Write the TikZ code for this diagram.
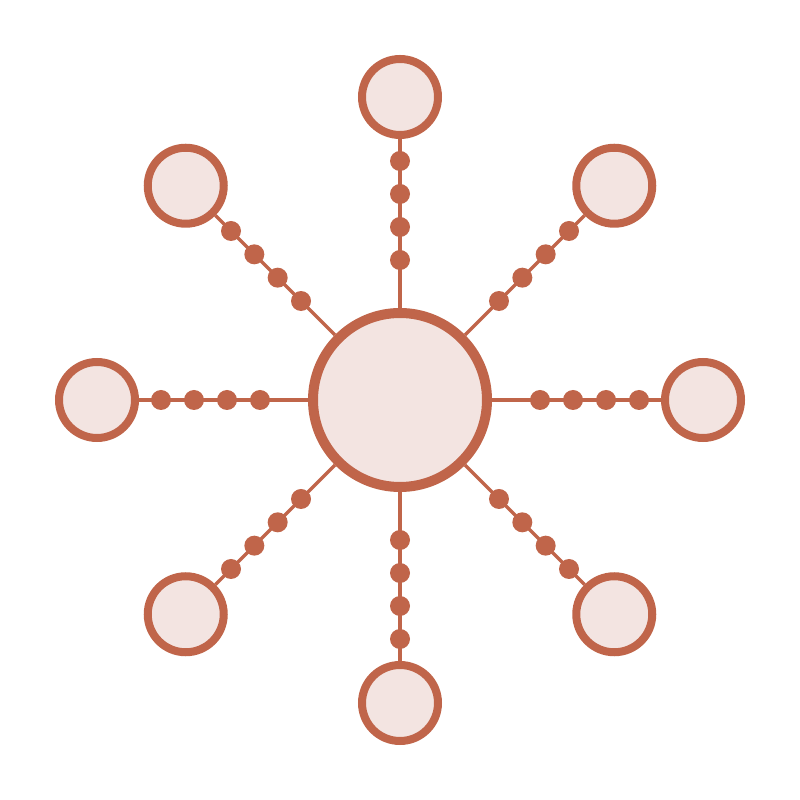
\documentclass[tikz,border=0pt]{standalone}
\usepackage{xcolor}
\usepackage{tikz}
\usetikzlibrary{positioning, calc, backgrounds}
\definecolor{hubRust}{RGB}{192, 101, 74}
\definecolor{hubBlush}{RGB}{243, 228, 225}

\begin{document}
\begin{tikzpicture}[
    hubnode/.style={
        circle,
        draw=hubRust,
        fill=hubBlush,
        line width=0.1cm,
        minimum size=1.74cm,
        inner sep=0pt
    },
    leafnode/.style={
        circle,
        draw=hubRust,
        fill=hubBlush,
        line width=0.08cm,
        minimum size=0.76cm,
        inner sep=0pt
    },
    bead/.style={
        circle,
        fill=hubRust,
        minimum size=0.2cm,
        inner sep=0pt
    },
    spoke/.style={
        draw=hubRust,
        line width=0.035cm
    }
]
    \useasboundingbox (-4,-4) rectangle (4,4);

    % Hub
    \node[hubnode] (hub) at (0,0) {};

    % Leaves and beads
    \foreach \i/\a in {1/90, 2/45, 3/0, 4/-45, 5/-90, 6/-135, 7/180, 8/135} {
        \node[leafnode] (leaf\i) at (\a:3.03) {};
        \foreach \j/\r in {1/1.40, 2/1.73, 3/2.06, 4/2.39}
            \node[bead] (bead\i-\j) at (\a:\r) {};
    }

    % Spokes
    \begin{scope}[on background layer]
        \foreach \i in {1,...,8}
            \draw[spoke] (hub) -- (leaf\i);
    \end{scope}

\end{tikzpicture}
\end{document}
